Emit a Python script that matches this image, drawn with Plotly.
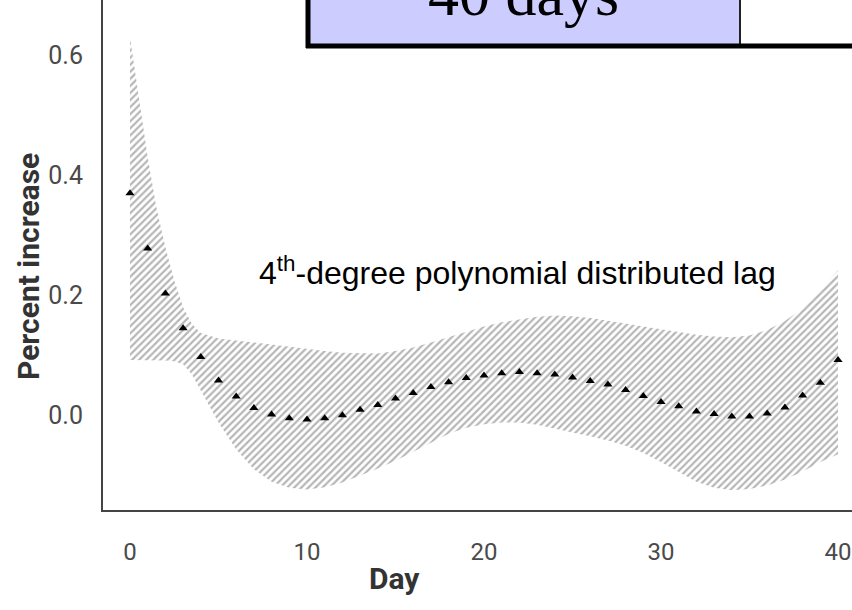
import plotly.graph_objects as go

# ---- data ----
days = list(range(41))
estimate = [0.370, 0.278, 0.203, 0.145, 0.097, 0.058, 0.031, 0.012, 0.001, -0.005,
            -0.007, -0.005, 0.000, 0.009, 0.017, 0.028, 0.037, 0.047, 0.055, 0.062,
            0.066, 0.070, 0.072, 0.070, 0.068, 0.063, 0.057, 0.051, 0.042, 0.032,
            0.022, 0.015, 0.006, 0.002, -0.002, -0.002, 0.003, 0.013, 0.033, 0.054,
            0.092]

band_days = [0, 0.5, 1, 1.5, 2, 2.5, 3, 3.5, 4, 5, 6, 7, 8, 9, 10, 11, 12, 13, 14, 15,
             16, 17, 18, 19, 20, 21, 22, 23, 24, 25, 26, 27, 28, 29, 30, 31, 32, 33, 34,
             35, 36, 37, 38, 39, 40]
band_upper = [0.630, 0.530, 0.430, 0.345, 0.280, 0.225, 0.180, 0.152, 0.137, 0.128,
              0.124, 0.121, 0.118, 0.114, 0.110, 0.107, 0.104, 0.103, 0.103, 0.107,
              0.113, 0.121, 0.130, 0.139, 0.148, 0.155, 0.160, 0.164, 0.166, 0.165,
              0.162, 0.158, 0.153, 0.148, 0.143, 0.138, 0.134, 0.131, 0.130, 0.133,
              0.142, 0.157, 0.178, 0.207, 0.242]
band_lower = [0.092, 0.092, 0.092, 0.092, 0.091, 0.090, 0.085, 0.068, 0.042, -0.012,
              -0.057, -0.090, -0.111, -0.121, -0.124, -0.120, -0.112, -0.101, -0.089, -0.076,
              -0.061, -0.045, -0.031, -0.021, -0.015, -0.012, -0.012, -0.016, -0.023, -0.029,
              -0.035, -0.042, -0.051, -0.063, -0.078, -0.095, -0.111, -0.121, -0.125, -0.123,
              -0.117, -0.107, -0.094, -0.078, -0.065]

y_tickvals = [0.0, 0.2, 0.4, 0.6]
y_ticktext = ["0.0", "0.2", "0.4", "0.6"]
x_tickvals = [0, 10, 20, 30, 40]
x_ticktext = ["0", "10", "20", "30", "40"]

W, H = 852, 610
ML, MR, MT, MB = 103, 0, 0, 100
PW, PH = W - ML - MR, H - MT - MB


def px_x(p):
    return (p - ML) / PW


def px_y(p):
    return (PH + MT - p) / PH


cond = "Roboto, Liberation Sans, sans-serif"

fig = go.Figure()
fig.add_trace(go.Scatter(x=band_days, y=band_lower, mode="lines",
                         line=dict(width=0), showlegend=False, hoverinfo="skip"))
fig.add_trace(go.Scatter(x=band_days, y=band_upper, mode="lines",
                         line=dict(width=0), fill="tonexty",
                         fillpattern=dict(shape="/", size=5, solidity=0.45,
                                          fgcolor="#6e6e6e", bgcolor="white"),
                         showlegend=False, hoverinfo="skip"))
fig.add_trace(go.Scatter(x=days, y=estimate, mode="markers",
                         marker=dict(symbol="triangle-up", size=8, color="black"),
                         showlegend=False))

fig.update_xaxes(range=[-1.525, 40.79], tickvals=x_tickvals, ticktext=x_ticktext,
                 showgrid=False, zeroline=False, showline=True, linecolor="#444",
                 linewidth=2, ticks="", ticklabelstandoff=19,
                 tickfont=dict(family=cond, size=24, color="#4a4a4a"))
fig.update_yaxes(range=[-0.158, 0.692], tickvals=y_tickvals, ticktext=y_ticktext,
                 showgrid=False, zeroline=False, showline=True, linecolor="#444",
                 linewidth=2, ticks="", ticklabelstandoff=13,
                 tickfont=dict(family=cond, size=25, color="#4a4a4a"))

# header table box (partially cut off at top)
fig.add_shape(type="rect", xref="paper", yref="paper", x0=px_x(308), x1=px_x(740),
              y0=px_y(46), y1=px_y(-20), fillcolor="#CCCCFF", line=dict(width=0))
fig.add_shape(type="rect", xref="paper", yref="paper", x0=px_x(740), x1=px_x(870),
              y0=px_y(46), y1=px_y(-20), fillcolor="white", line=dict(width=0))
fig.add_shape(type="line", xref="paper", yref="paper", x0=px_x(740), x1=px_x(740),
              y0=px_y(46), y1=px_y(-20), line=dict(color="#222", width=2))
fig.add_shape(type="line", xref="paper", yref="paper", x0=px_x(308), x1=px_x(308),
              y0=px_y(48), y1=px_y(-20), line=dict(color="black", width=5))
fig.add_shape(type="line", xref="paper", yref="paper", x0=px_x(306), x1=px_x(870),
              y0=px_y(46), y1=px_y(46), line=dict(color="black", width=5))

fig.add_annotation(text="40 days", xref="paper", yref="paper", x=px_x(523), y=px_y(30),
                   xanchor="center", yanchor="bottom", showarrow=False,
                   font=dict(family="Liberation Serif, Times New Roman, serif", size=62,
                             color="black"))

fig.add_annotation(text="4<sup>th</sup>-degree polynomial distributed lag",
                   xref="paper", yref="paper", x=px_x(517), y=px_y(293),
                   xanchor="center", yanchor="bottom", showarrow=False,
                   font=dict(family="Liberation Sans, Arial, sans-serif", size=32,
                             color="black"))

fig.add_annotation(text="<b>Percent increase</b>", xref="paper", yref="paper",
                   x=px_x(28), y=px_y(267), xanchor="center", yanchor="middle",
                   textangle=-90, showarrow=False,
                   font=dict(family=cond, size=30, color="#333"))
fig.add_annotation(text="<b>Day</b>", xref="paper", yref="paper",
                   x=px_x(394), y=px_y(578), xanchor="center", yanchor="middle",
                   showarrow=False, font=dict(family=cond, size=30, color="#333"))

fig.update_layout(width=W, height=H, margin=dict(l=ML, r=MR, t=MT, b=MB),
                  plot_bgcolor="white", paper_bgcolor="white")

fig.write_html("out.html")
